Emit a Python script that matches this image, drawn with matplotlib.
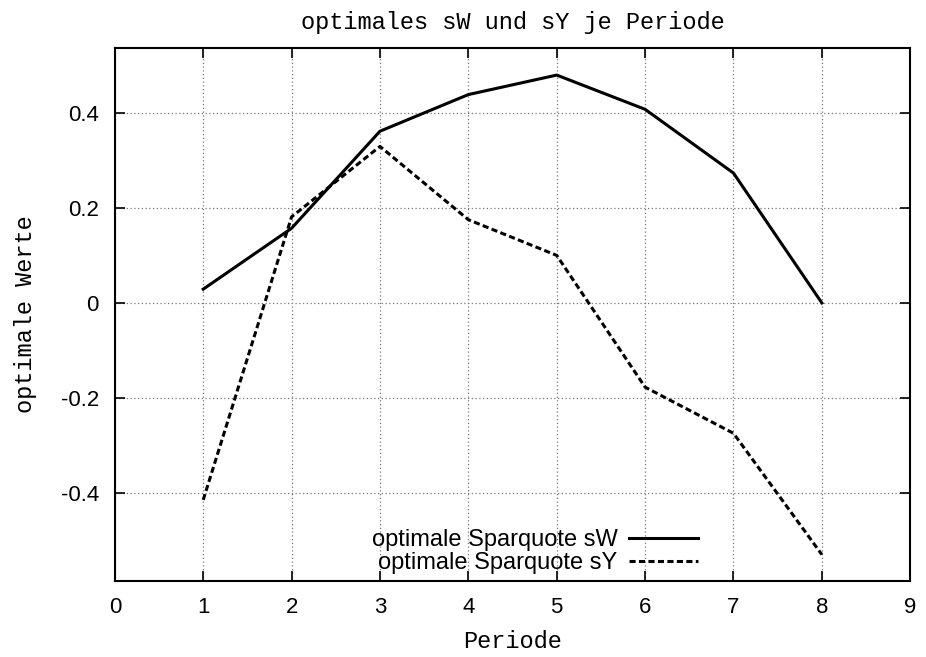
import matplotlib
matplotlib.use("Agg")
import matplotlib.pyplot as plt

perioden = [1, 2, 3, 4, 5, 6, 7, 8]
sW = [0.029, 0.157, 0.361, 0.438, 0.479, 0.407, 0.273, 0.0]
sY = [-0.414, 0.181, 0.329, 0.175, 0.100, -0.177, -0.274, -0.529]
x_ticks = [0, 1, 2, 3, 4, 5, 6, 7, 8, 9]
y_ticks = [-0.4, -0.2, 0, 0.2, 0.4]
y_labels = ["-0.4", "-0.2", "0", "0.2", "0.4"]

mono = "Liberation Mono"
sans = "Liberation Sans"

fig = plt.figure(figsize=(9.26, 6.57), dpi=100)
ax = fig.add_axes([0.124, 0.116, 0.859, 0.811])

ax.plot(perioden, sW, color="black", lw=2.2, label="optimale Sparquote sW")
ax.plot(perioden, sY, color="black", lw=2.2, linestyle=(0, (2.0, 1.1)),
        label="optimale Sparquote sY")

ax.set_xlim(0, 9)
ax.set_ylim(-0.584, 0.536)
ax.set_xticks(x_ticks)
ax.set_yticks(y_ticks)
ax.set_yticklabels(y_labels)
for lab in ax.get_xticklabels() + ax.get_yticklabels():
    lab.set_fontfamily(sans)
    lab.set_fontsize(16)

ax.tick_params(direction="in", length=7, width=1.2, top=True, right=True)
ax.tick_params(axis="x", pad=12)
ax.tick_params(axis="y", pad=11.5)
ax.grid(True, color="#777777", linestyle=(0, (1, 2)), linewidth=0.9)
for s in ax.spines.values():
    s.set_linewidth(1.5)

ax.set_title("optimales sW und sY je Periode", family=mono, fontsize=17, pad=14)
ax.set_xlabel("Periode", family=mono, fontsize=17, labelpad=8)
ax.set_ylabel("optimale Werte", family=mono, fontsize=17, labelpad=17)

ax.legend(loc="lower right", bbox_to_anchor=(0.733, 0.013), frameon=False,
          markerfirst=False, handlelength=2.9, handletextpad=0.5,
          labelspacing=0.02, borderaxespad=0, borderpad=0,
          prop={"family": sans, "size": 17})

fig.savefig("out.png", dpi=100)
plt.close(fig)
